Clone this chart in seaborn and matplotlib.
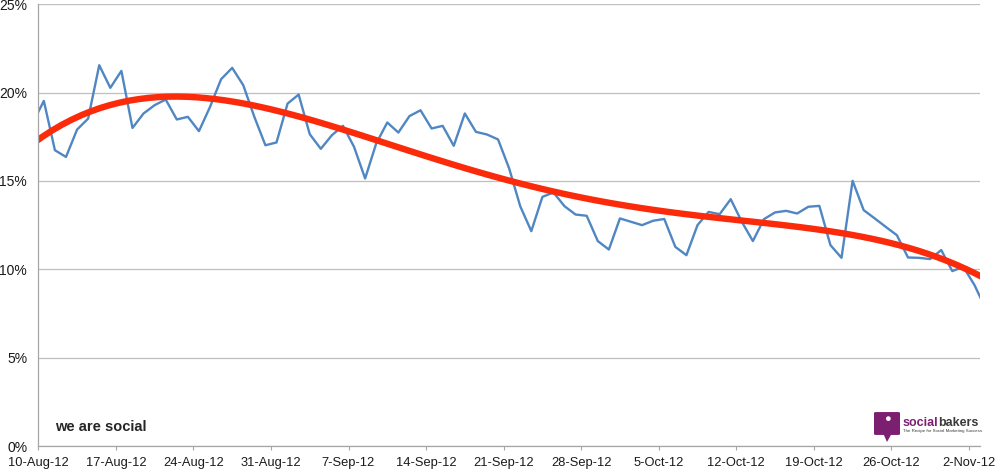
import numpy as np
import pandas as pd
import matplotlib
matplotlib.use('Agg')
import matplotlib.pyplot as plt
import seaborn as sns
from matplotlib.patches import FancyBboxPatch, Polygon
from matplotlib.ticker import PercentFormatter

# daily share (%), 9-Aug-12 .. 3-Nov-12 (first and last points fall just outside the axis)
dates = pd.date_range('2012-08-09', '2012-11-03', freq='D')
share = [18.29, 19.53, 16.74, 16.36, 17.91, 18.53, 21.55, 20.27, 21.23, 18.00,
         18.82, 19.29, 19.61, 18.48, 18.63, 17.82, 19.19, 20.76, 21.40, 20.42,
         18.63, 17.02, 17.18, 19.38, 19.89, 17.65, 16.82, 17.59, 18.12, 16.93,
         15.14, 17.12, 18.31, 17.74, 18.67, 19.00, 17.97, 18.12, 16.99, 18.82,
         17.78, 17.63, 17.35, 15.71, 13.57, 12.16, 14.10, 14.35, 13.57, 13.10,
         13.03, 11.60, 11.12, 12.88, 12.69, 12.50, 12.75, 12.85, 11.27, 10.80,
         12.50, 13.25, 13.12, 13.97, 12.69, 11.60, 12.84, 13.22, 13.31, 13.16,
         13.54, 13.59, 11.37, 10.65, 15.01, 13.35, 12.88, 12.40, 11.93, 10.67,
         10.65, 10.58, 11.09, 9.90, 10.14, 9.11, 7.79]
tick_labels = ['10-Aug-12', '17-Aug-12', '24-Aug-12', '31-Aug-12', '7-Sep-12',
               '14-Sep-12', '21-Sep-12', '28-Sep-12', '5-Oct-12', '12-Oct-12',
               '19-Oct-12', '26-Oct-12', '2-Nov-12']

df = pd.DataFrame({'date': dates, 'share': share})
# days since 10-Aug, each point sits in the middle of its day
df['day'] = (df['date'] - pd.Timestamp('2012-08-10')).dt.days + 0.5

sns.set_theme(style='white')
plt.rcParams['font.family'] = ['Liberation Sans', 'DejaVu Sans']

fig = plt.figure(figsize=(10, 4.74), dpi=100)
ax = fig.add_axes([0.0383, 0.059, 0.9417, 0.932])

sns.lineplot(data=df, x='day', y='share', color='#5087c2', lw=1.7, ax=ax)
# polynomial trendline
sns.regplot(data=df, x='day', y='share', order=4, ci=None, scatter=False, ax=ax,
            line_kws=dict(color='#fa2a0a', lw=4.6, solid_capstyle='butt'))

ax.set_xlim(0, 85)
ax.set_ylim(0, 25)
ax.set_xticks(np.arange(len(tick_labels)) * 7)
ax.set_xticklabels(tick_labels)
ax.set_yticks([0, 5, 10, 15, 20, 25])
ax.yaxis.set_major_formatter(PercentFormatter(decimals=0))
ax.set_xlabel('')
ax.set_ylabel('')

ax.yaxis.grid(True, color='#bfbfbf', lw=0.9)
ax.set_axisbelow(True)
for s in ['top', 'right']:
    ax.spines[s].set_visible(False)
for s in ['left', 'bottom']:
    ax.spines[s].set_color('#a6a6a6')
    ax.spines[s].set_linewidth(0.9)
ax.tick_params(axis='y', length=0, pad=8, labelsize=10, labelcolor='#1a1a1a')
ax.tick_params(axis='x', bottom=True, length=3, width=0.8, color='#a6a6a6',
               pad=5, labelsize=9.3, labelcolor='#1a1a1a')

# watermarks
fig.text(0.055, 1 - 427 / 474, 'we are social', fontsize=10.5, fontweight='bold',
         color='#262626', ha='left', va='center')

purple = '#7d1f70'
fig.patches.append(FancyBboxPatch((0.876, 1 - 434 / 474), 0.022, 21 / 474,
                                  boxstyle='round,pad=0.002', fc=purple, ec='none',
                                  transform=fig.transFigure, figure=fig))
fig.patches.append(Polygon([(0.883, 1 - 433 / 474), (0.892, 1 - 433 / 474),
                            (0.887, 1 - 442 / 474)], closed=True, fc=purple, ec='none',
                           transform=fig.transFigure, figure=fig))
fig.text(0.887, 1 - 419 / 474, '\u25cf', fontsize=8, color='white', ha='center', va='center')
fig.canvas.draw()
t1 = fig.text(0.903, 1 - 426 / 474, 'social', fontsize=9, fontweight='bold',
              color=purple, ha='left', va='baseline')
bb = t1.get_window_extent(fig.canvas.get_renderer())
fig.text(bb.x1 / fig.bbox.width, 1 - 426 / 474, 'bakers', fontsize=9, fontweight='bold',
         color='#3a3a3a', ha='left', va='baseline')
fig.text(0.903, 1 - 431 / 474, 'The Recipe for Social Marketing Success', fontsize=3.2,
         color='#3a3a3a', ha='left', va='center')

fig.savefig('out.png', dpi=100)
